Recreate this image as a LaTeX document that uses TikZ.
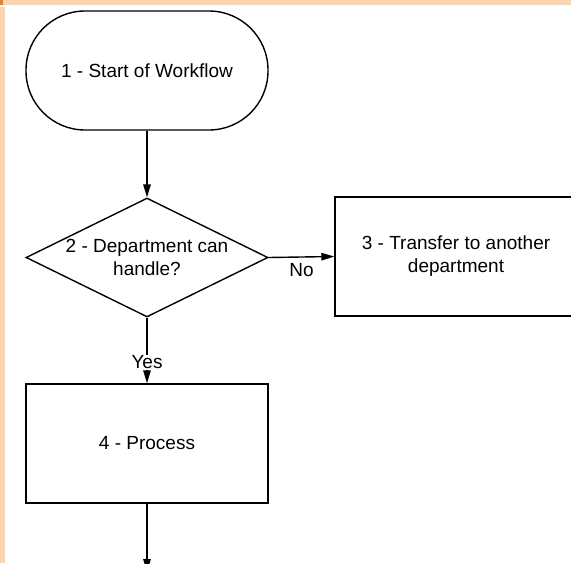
\documentclass[tikz,border=0pt]{standalone}
\usepackage{fontspec}
\setmainfont{Liberation Sans}
\usetikzlibrary{shapes.geometric,arrows.meta}
\definecolor{peach}{RGB}{253,213,172}
\definecolor{cornerorange}{RGB}{240,128,32}
\begin{document}
\begin{tikzpicture}[x=1pt,y=-1pt,
  font=\fontsize{19}{23}\selectfont,
  line width=1.4pt,
  box/.style={draw, rectangle, minimum width=242pt, minimum height=119pt, inner sep=0pt, align=center},
  term/.style={box, rounded corners=59pt},
  decision/.style={draw, diamond, minimum width=242pt, minimum height=119pt, inner sep=0pt},
  flow/.style={-{Triangle[length=13pt,width=7.5pt]}},
  lbl/.style={inner sep=1pt, fill=white}]
\useasboundingbox (0,0) rectangle (571,563);
\clip (0,0) rectangle (571,563);
\fill[white] (0,0) rectangle (571,563);
\fill[peach] (0,0) rectangle (571,5);
\fill[peach] (0,7) rectangle (4.5,563);
\fill[cornerorange] (0,0) rectangle (3,5);
\node[term] (n1) at (147,70.5) {1 - Start of Workflow};
\node[decision] (n2) at (147,257.5) {};
\node[align=center] (t2) at (147,257.5) {2 - Department can\\handle?};
\node[box, minimum width=260pt] (n3) at (465,256.5) {};
\node[align=center] (t3) at (456,256.5) {3 - Transfer to another\\department};
\node[box] (n4) at (147,443.5) {4 - Process};
\coordinate (end) at (147,572);
\draw[flow] (n1.south) -- (n2.north);
\draw[flow] (n2.east) -- node[pos=0.5, yshift=-13pt, inner sep=0pt] (no) {No} (n3.west);
\draw[flow] (n2.south) -- node[lbl, pos=0.68] (yes) {Yes} (n4.north);
\draw[flow] (n4.south) -- (end);
\end{tikzpicture}
\end{document}
